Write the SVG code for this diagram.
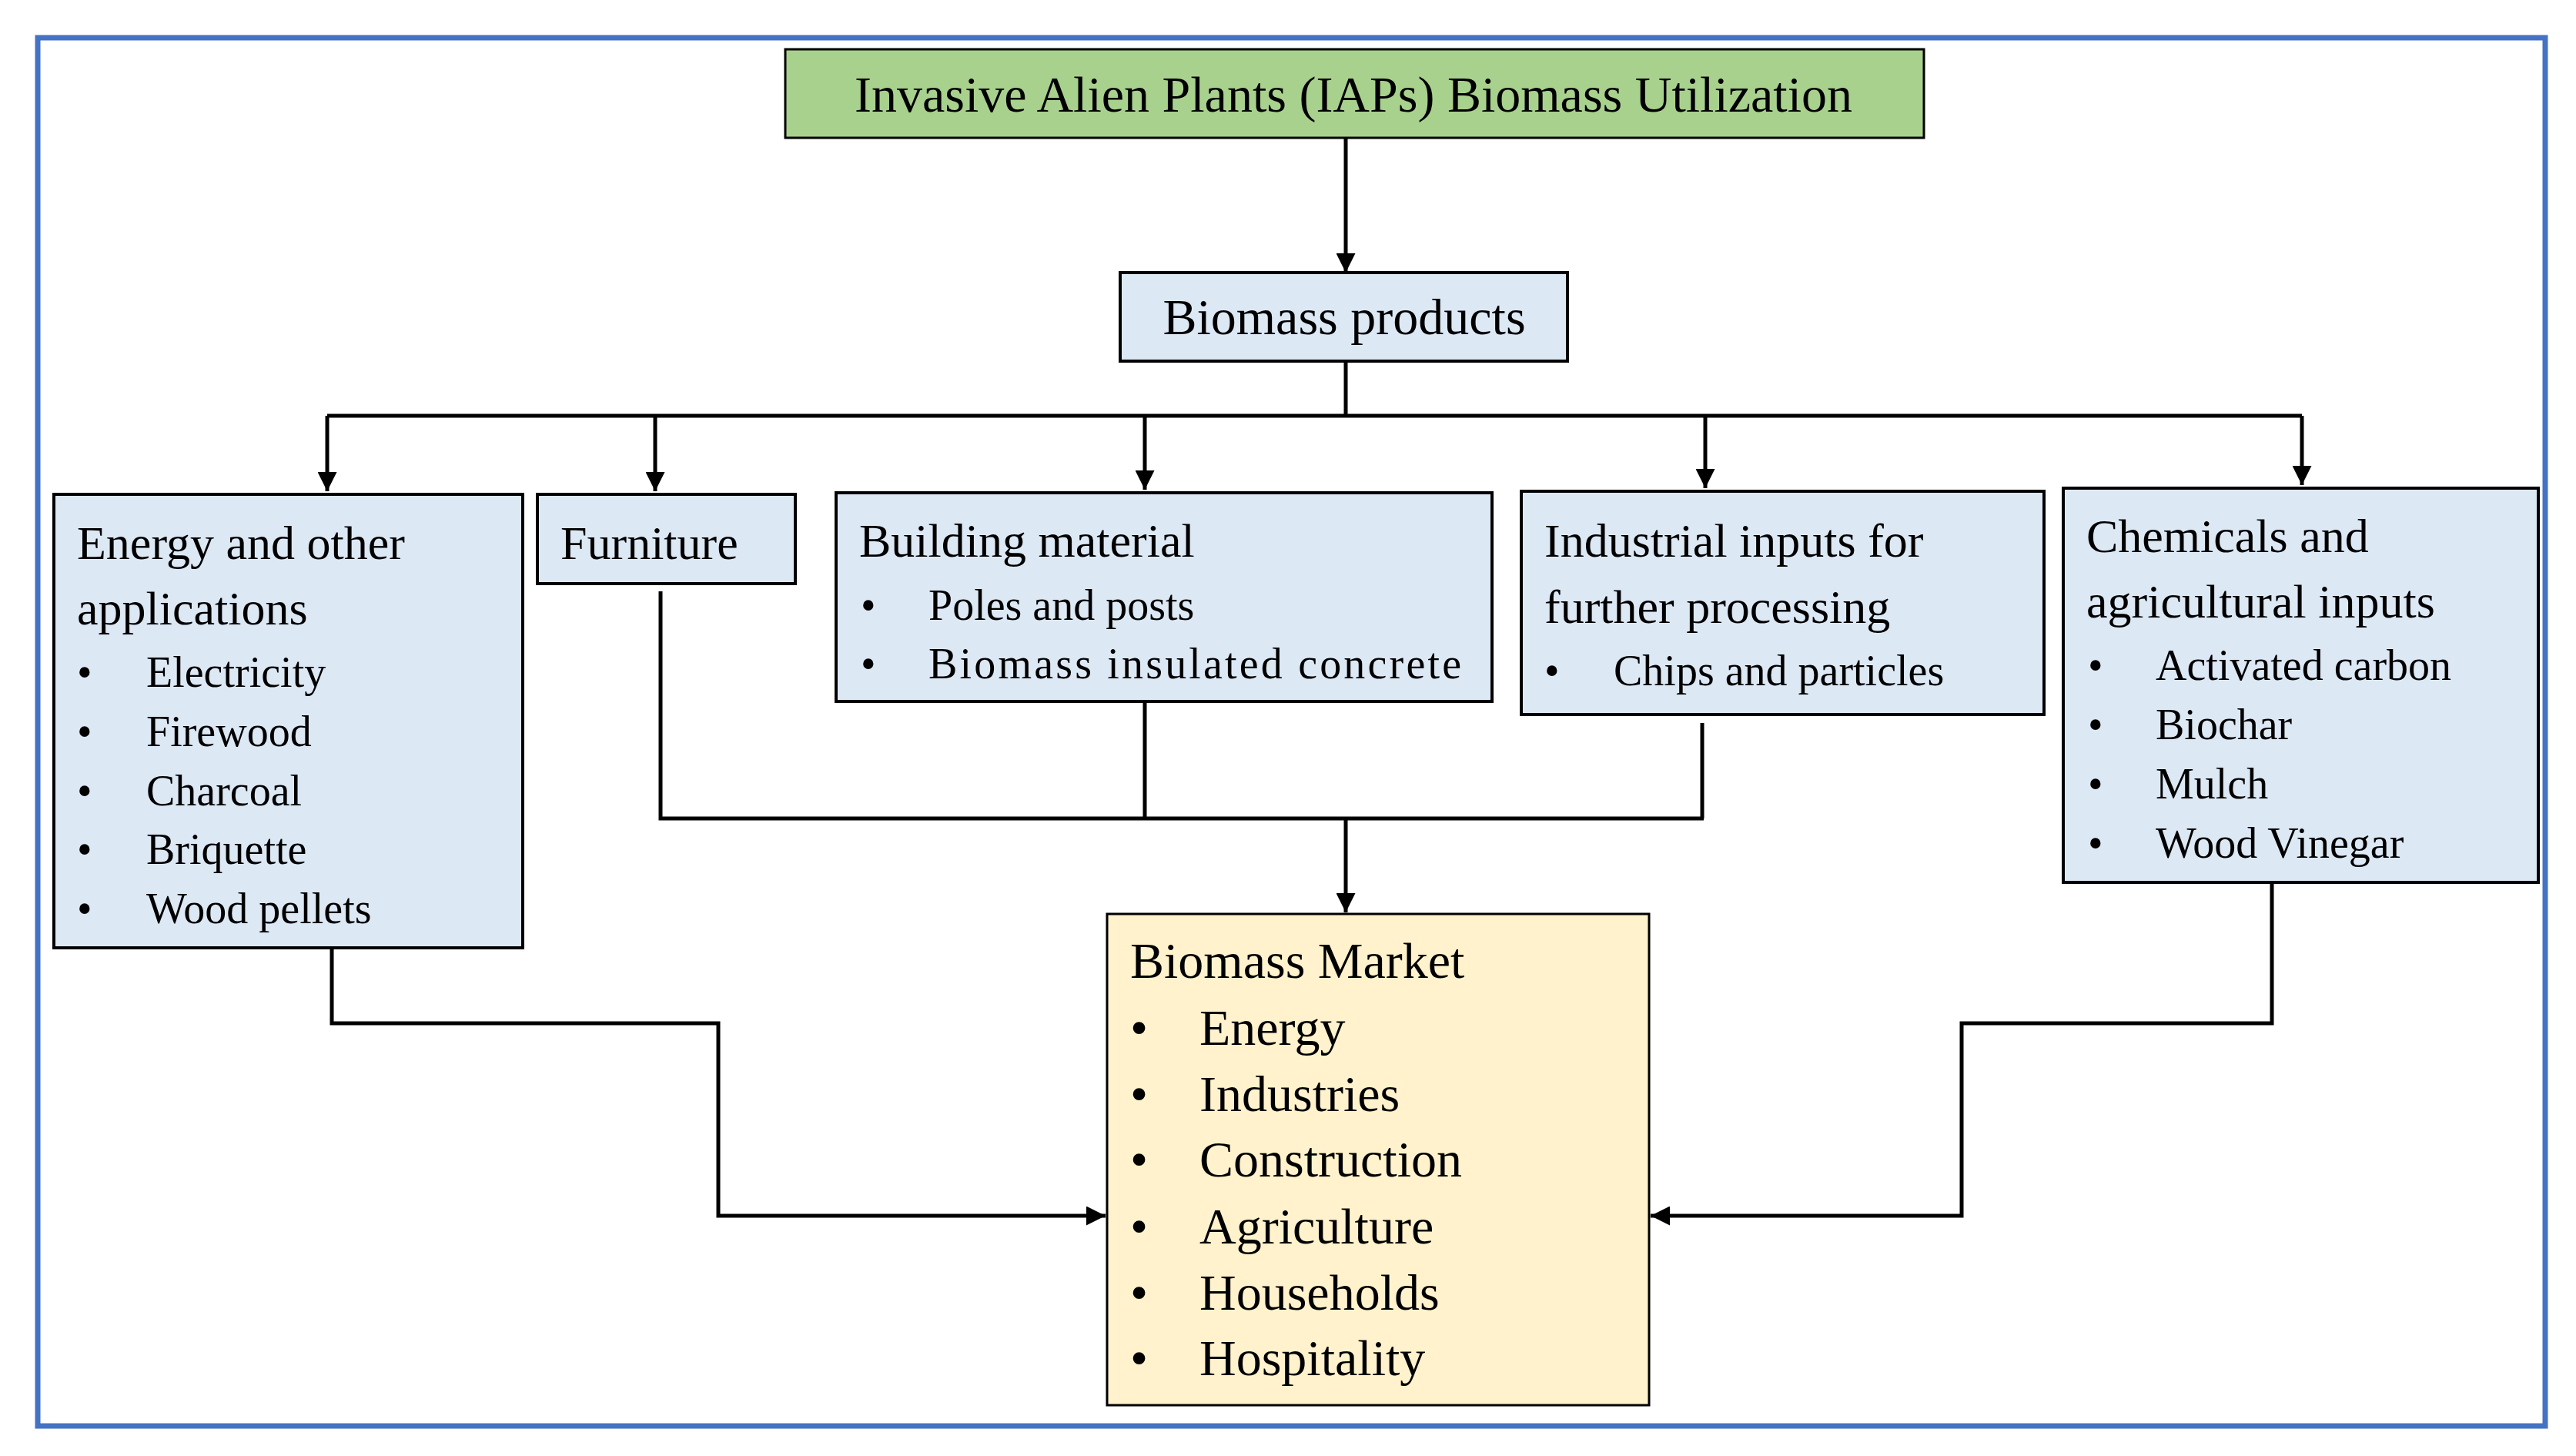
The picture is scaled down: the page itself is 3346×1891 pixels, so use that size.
<svg xmlns="http://www.w3.org/2000/svg" width="3346" height="1891" viewBox="0 0 3346 1891">
<style>
text{font-family:"Liberation Serif","Times New Roman",serif;fill:#000}
.box{fill:#dde8f5;stroke:#000;stroke-width:4}
.h{font-size:62px}
.b{font-size:56px}
.m{font-size:66px}
.c{fill:none;stroke:#000;stroke-width:5}
</style>
<defs>
<marker id="ar" viewBox="0 0 10 10" refX="10" refY="5" markerWidth="5" markerHeight="5" markerUnits="strokeWidth" orient="auto">
<path d="M0,0L10,5L0,10z" fill="#000"/>
</marker>
</defs>
<rect width="3346" height="1891" fill="#fff"/>
<rect x="49" y="49" width="3257" height="1803" fill="none" stroke="#4472c4" stroke-width="7"/>
<g id="connectors">
<path class="c" d="M1748,179V354" marker-end="url(#ar)"/>
<path class="c" d="M1748,469V540M425,540H2990"/>
<path class="c" d="M425,540V638" marker-end="url(#ar)"/>
<path class="c" d="M851,540V638" marker-end="url(#ar)"/>
<path class="c" d="M1487,540V636" marker-end="url(#ar)"/>
<path class="c" d="M2215,540V634" marker-end="url(#ar)"/>
<path class="c" d="M2990,540V630" marker-end="url(#ar)"/>
<path class="c" d="M858,768V1063H2213M1487,911V1063M2211,939V1063"/>
<path class="c" d="M1748,1063V1185" marker-end="url(#ar)"/>
<path class="c" d="M431,1231V1329H933V1579H1436" marker-end="url(#ar)"/>
<path class="c" d="M2951,1146V1329H2548V1579H2144" marker-end="url(#ar)"/>
</g>
<g id="title">
<rect x="1020" y="64" width="1479" height="115" fill="#a9d18e" stroke="#000" stroke-width="3"/>
<text class="h" x="1758" y="145" text-anchor="middle" style="font-size:66px">Invasive Alien Plants (IAPs) Biomass Utilization</text>
</g>
<g id="products">
<rect class="box" x="1455" y="354" width="581" height="115"/>
<text class="h" x="1746" y="434" text-anchor="middle" style="font-size:66px">Biomass products</text>
</g>
<g id="energy">
<rect class="box" x="70" y="642" width="609" height="589"/>
<text class="h" x="100" y="726">Energy and other</text>
<text class="h" x="100" y="811">applications</text>
<g class="b">
<text x="100" y="892">•</text><text x="190" y="892">Electricity</text>
<text x="100" y="969">•</text><text x="190" y="969">Firewood</text>
<text x="100" y="1046">•</text><text x="190" y="1046">Charcoal</text>
<text x="100" y="1122">•</text><text x="190" y="1122">Briquette</text>
<text x="100" y="1199">•</text><text x="190" y="1199">Wood pellets</text>
</g>
</g>
<g id="furniture">
<rect class="box" x="698" y="642" width="335" height="116"/>
<text class="h" x="728" y="726">Furniture</text>
</g>
<g id="building">
<rect class="box" x="1086" y="640" width="852" height="271"/>
<text class="h" x="1116" y="723">Building material</text>
<g class="b">
<text x="1118" y="805">•</text><text x="1206" y="805">Poles and posts</text>
<text x="1118" y="881">•</text><text x="1206" y="881" textLength="692">Biomass insulated concrete</text>
</g>
</g>
<g id="industrial">
<rect class="box" x="1976" y="638" width="679" height="290"/>
<text class="h" x="2006" y="723">Industrial inputs for</text>
<text class="h" x="2006" y="809">further processing</text>
<g class="b"><text x="2006" y="890">•</text><text x="2096" y="890">Chips and particles</text></g>
</g>
<g id="chemicals">
<rect class="box" x="2680" y="634" width="617" height="512"/>
<text class="h" x="2710" y="717">Chemicals and</text>
<text class="h" x="2710" y="802">agricultural inputs</text>
<g class="b">
<text x="2712" y="883">•</text><text x="2800" y="883">Activated carbon</text>
<text x="2712" y="960">•</text><text x="2800" y="960">Biochar</text>
<text x="2712" y="1037">•</text><text x="2800" y="1037">Mulch</text>
<text x="2712" y="1114">•</text><text x="2800" y="1114">Wood Vinegar</text>
</g>
</g>
<g id="market">
<rect x="1438" y="1187" width="704" height="638" fill="#fff2cc" stroke="#000" stroke-width="3"/>
<g class="m">
<text x="1468" y="1270">Biomass Market</text>
<text x="1468" y="1357">•</text><text x="1558" y="1357">Energy</text>
<text x="1468" y="1443">•</text><text x="1558" y="1443">Industries</text>
<text x="1468" y="1528">•</text><text x="1558" y="1528">Construction</text>
<text x="1468" y="1615">•</text><text x="1558" y="1615">Agriculture</text>
<text x="1468" y="1701">•</text><text x="1558" y="1701">Households</text>
<text x="1468" y="1786">•</text><text x="1558" y="1786">Hospitality</text>
</g>
</g>
</svg>
